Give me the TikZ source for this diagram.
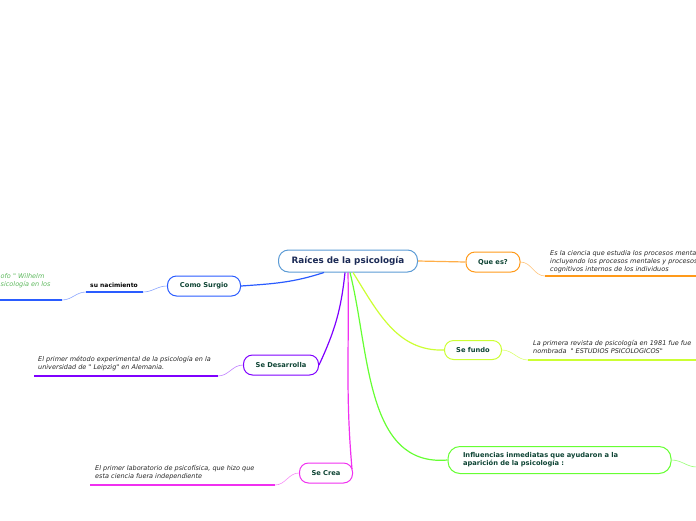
\documentclass[tikz,border=0pt]{standalone}
\usepackage{fontspec}
\setmainfont{DejaVu Sans}
\usetikzlibrary{positioning,calc}
\definecolor{rootline}{HTML}{5B9BD5}
\definecolor{roottext}{HTML}{1B2A55}
\definecolor{nodetext}{HTML}{0E4434}
\definecolor{cblue}{HTML}{2A5CFF}
\definecolor{cviolet}{HTML}{7F00FF}
\definecolor{cmagenta}{HTML}{F030F0}
\definecolor{cgreen}{HTML}{66FF33}
\definecolor{cyellow}{HTML}{CCFF33}
\definecolor{corange}{HTML}{FF9A1A}
\definecolor{notegreen}{HTML}{5CB85C}

\begin{document}
\begin{tikzpicture}[x=1pt, y=-1pt,
  topic/.style={rectangle, draw, line width=1pt, rounded corners=9pt, fill=white, minimum height=20pt, inner sep=0pt,
    align=center, font=\fontsize{6.7}{8}\selectfont\bfseries, text=nodetext},
  note/.style={anchor=north west, inner sep=0pt, align=left, font=\fontsize{6.5}{8}\selectfont\itshape, text=black!85},
  branch/.style={line width=1.2pt},
  twig/.style={line width=0.6pt},
  uline/.style={line width=1.5pt}
]
  \useasboundingbox (0,0) rectangle (696,520);
  \clip (0,0) rectangle (696,520);

  % centre and main topics
  \node[topic, draw=rootline, minimum width=139pt, minimum height=22pt, rounded corners=10pt,
    font=\fontsize{8.8}{10}\selectfont\bfseries, text=roottext] (root) at (348,261) {Raíces de la psicología};
  \node[topic, draw=corange, minimum width=54pt] (quees) at (493,262) {Que es?};
  \node[topic, draw=cyellow, minimum width=57pt, minimum height=19pt] (fundo) at (473,350) {Se fundo};
  \node[topic, draw=cgreen, minimum width=223pt, minimum height=27pt, rounded corners=12pt,
    text width=193pt, align=left] (influ) at (559.5,460) {Influencias inmediatas que ayudaron a la\\aparición de la psicología :};
  \node[topic, draw=cblue, minimum width=73pt] (como) at (204,286) {Como Surgio};
  \node[topic, draw=cviolet, minimum width=75pt] (desarr) at (281,365) {Se Desarrolla};
  \node[topic, draw=cmagenta, minimum width=53pt] (crea) at (326,473) {Se Crea};

  % notes
  \node[note] (queesTxt) at (550,250.5) {Es la ciencia que estudia los procesos menta\\incluyendo los procesos mentales y procesos\\cognitivos internos de los individuos};
  \node[note] (fundoTxt) at (533,340.5) {La primera revista de psicología en 1981 fue fue\\nombrada \ \textquotedbl\ ESTUDIOS PSICOLOGICOS\textquotedbl};
  \node[note] (desarrTxt) at (38,356.5) {El primer método experimental de la psicología en la\\universidad de \textquotedbl\ Leipzig\textquotedbl\ en Alemania.};
  \node[note] (creaTxt) at (95,465.5) {El primer laboratorio de psicofísica, que hizo que\\esta ciencia fuera independiente};
  \node[note, text=notegreen] (wundtTxt) at (0.5,273.5) {ofo \textquotedbl\ Wilhelm\\sicología en los};
  \node[font=\fontsize{6}{8}\selectfont\bfseries, inner sep=0pt] (nacim) at (114,285.5) {su nacimiento};

  % underline ends
  \coordinate (queesA) at (545,276);   \coordinate (queesB) at (697,276);
  \coordinate (fundoA) at (528,360);   \coordinate (fundoB) at (697,360);
  \coordinate (desarrA) at (218,376);  \coordinate (desarrB) at (34,376);
  \coordinate (creaA) at (275,485);    \coordinate (creaB) at (90,485);
  \coordinate (nacimA) at (143,292);   \coordinate (nacimB) at (86,292);
  \coordinate (wundtA) at (62,300);    \coordinate (wundtB) at (-1,300);
  \coordinate (influB) at (697,467);

  % branches from the centre
  \draw[branch, corange!80] (root.east) -- (quees.west);
  \draw[branch, cblue] ($(root.south)+(-24,0)$) to[out=198, in=4] (como.east);
  \draw[branch, cviolet] ($(root.south)+(-3,0)$) to[out=-96, in=65] (desarr.east);
  \draw[branch, cmagenta] ($(root.south)+(0,0)$) to[out=-89, in=95] ($(crea.east)+(-1,-4)$);
  \draw[branch, cgreen] ($(root.south)+(2,0)$) to[out=-76, in=185] (influ.west);
  \draw[branch, cyellow] ($(root.south)+(5,0)$) to[out=-58, in=182] (fundo.west);

  % twigs to the notes
  \draw[twig, corange!60] (quees.east) to[out=0, in=180] (queesA);
  \draw[twig, cyellow!70] (fundo.east) to[out=0, in=180] (fundoA);
  \draw[twig, cgreen!70] (influ.east) to[out=0, in=180] (influB);
  \draw[twig, cblue!55] (como.west) to[out=180, in=0] (nacimA);
  \draw[twig, cblue!55] (nacimB) to[out=180, in=0] (wundtA);
  \draw[twig, cviolet!50] (desarr.west) to[out=180, in=0] (desarrA);
  \draw[twig, cmagenta!55] (crea.west) to[out=180, in=0] (creaA);

  % underlines
  \draw[uline, corange] (queesA) -- (queesB);
  \draw[uline, cyellow] (fundoA) -- (fundoB);
  \draw[uline, cviolet] (desarrA) -- (desarrB);
  \draw[uline, cmagenta] (creaA) -- (creaB);
  \draw[uline, cblue] (nacimA) -- (nacimB);
  \draw[uline, cblue] (wundtA) -- (wundtB);
\end{tikzpicture}
\end{document}
